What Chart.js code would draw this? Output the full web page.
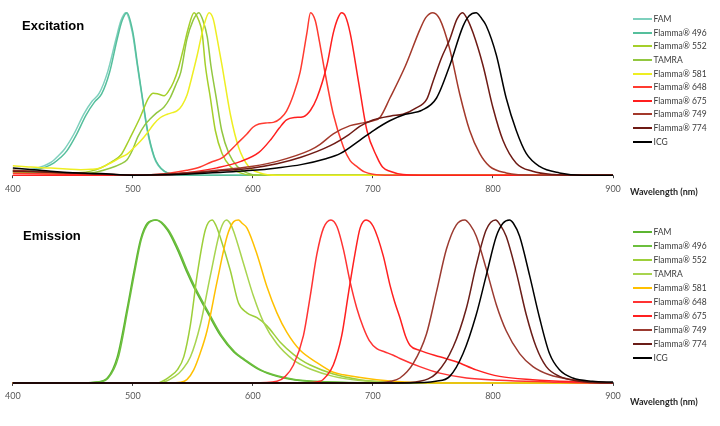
<!DOCTYPE html>
<html>
<head>
<meta charset="utf-8">
<script src="https://cdn.jsdelivr.net/npm/chart.js@4.4.1/dist/chart.umd.min.js"></script>
<style>
  body{margin:0;background:#fff;}
  #wrap{position:relative;width:720px;height:426px;overflow:hidden;}
  .panel{position:absolute;left:0;width:720px;height:213px;}
  .title{position:absolute;font:bold 13px "Liberation Sans",Arial,sans-serif;line-height:13px;color:#000;white-space:nowrap;}
  .axisTitle{position:absolute;font:bold 9px Lato,sans-serif;line-height:9px;color:#262626;white-space:nowrap;}
  .legend{position:absolute;left:633px;font:8.5px Lato,sans-serif;color:#3a3a3a;}
  .legend .row{display:flex;align-items:center;white-space:nowrap;}
  .legend .swatch{width:19px;height:2px;margin-right:1.5px;}
</style>
</head>
<body>
<div id="wrap">
  <div class="panel" style="top:0"><canvas id="exChart"></canvas></div>
  <div class="panel" style="top:213px"><canvas id="emChart"></canvas></div>
  <div class="title" style="left:22px;top:18.6px">Excitation</div>
  <div class="title" style="left:23px;top:228.6px">Emission</div>
  <div class="axisTitle" style="left:630px;top:187px">Wavelength (nm)</div>
  <div class="axisTitle" style="left:630px;top:397px">Wavelength (nm)</div>
  <div class="legend" id="exLegend" style="top:12.5px"></div>
  <div class="legend" id="emLegend" style="top:224.7px"></div>
</div>
<script>
const dyes=['FAM','Flamma® 496','Flamma® 552','TAMRA','Flamma® 581','Flamma® 648','Flamma® 675','Flamma® 749','Flamma® 774','ICG'];
const xTicks=[400,500,600,700,800,900];

// excitation spectra, [wavelength nm, normalised intensity]
const exFAM=[[400,0.025],[410,0.03],[418,0.04],[425,0.055],[432,0.08],[438,0.12],[443,0.16],[451,0.255],[459,0.375],[466,0.455],[472,0.505],[479,0.636],[486,0.84],[490,0.95],[494,1.0],[499.5,0.88],[503.7,0.675],[507.8,0.475],[512,0.275],[517.5,0.114],[521,0.06],[526,0.024],[534,0.005],[550,0],[900,0]];
const exF496=[[400,0.02],[410,0.022],[420,0.035],[427,0.05],[434,0.075],[440,0.11],[445,0.15],[453,0.25],[461,0.37],[468,0.45],[474,0.5],[480.5,0.63],[487,0.84],[491,0.95],[495,1.0],[500,0.88],[504,0.675],[508,0.475],[512.3,0.275],[517.8,0.114],[521.5,0.06],[526.5,0.024],[535,0.005],[550,0],[900,0]];
const exF552=[[400,0.02],[430,0.01],[455,0.015],[465,0.025],[473,0.044],[482,0.08],[490,0.124],[495,0.19],[498,0.234],[506,0.355],[513,0.475],[517,0.505],[521,0.5],[526,0.489],[530,0.52],[534,0.575],[538,0.66],[542,0.776],[546,0.9],[551,1.0],[554.5,0.96],[557.7,0.876],[560.4,0.675],[564.6,0.475],[568.7,0.275],[574.3,0.134],[581.2,0.054],[589.5,0.014],[600,0],[900,0]];
const exTAMRA=[[400,0.03],[430,0.015],[460,0.01],[470,0.02],[481.5,0.044],[490,0.07],[495,0.094],[500,0.16],[504,0.234],[510,0.31],[515,0.35],[520,0.385],[526,0.42],[531,0.475],[536,0.56],[540,0.636],[545,0.836],[550,0.95],[555,1.0],[558.5,0.95],[562,0.85],[565,0.675],[569.5,0.475],[574,0.275],[580,0.134],[587,0.054],[595,0.014],[605,0],[900,0]];
const exF581=[[400,0.058],[415,0.05],[431.6,0.044],[445,0.038],[456.5,0.034],[465,0.036],[473,0.044],[481.5,0.075],[490,0.11],[495.3,0.13],[501,0.17],[506.4,0.21],[512,0.26],[517.5,0.315],[523,0.355],[528.6,0.375],[533,0.385],[537,0.397],[541,0.43],[545.2,0.495],[549,0.6],[553.5,0.735],[559,0.916],[563.5,1.0],[567,0.96],[570,0.85],[574.3,0.675],[581.2,0.375],[588,0.174],[596.4,0.054],[606,0.014],[620,0],[900,0]];
const exF648=[[400,0.012],[430,0.008],[470,0.002],[500,0],[520,0.005],[530,0.012],[545,0.03],[556,0.05],[565,0.08],[575,0.11],[586.8,0.194],[595,0.254],[600,0.295],[605,0.315],[612,0.322],[617,0.325],[623,0.35],[628,0.395],[634,0.5],[639.4,0.636],[645,0.876],[648,1.0],[652,0.95],[655.5,0.82],[659,0.675],[667,0.375],[675.4,0.174],[681,0.09],[686.5,0.054],[693,0.02],[700,0.006],[715,0],[900,0]];
const exF675=[[400,0],[500,0],[530,0.005],[550,0.02],[570,0.045],[590,0.085],[605,0.14],[615,0.22],[622,0.29],[628,0.34],[635,0.355],[642,0.36],[648,0.4],[653.3,0.475],[661.6,0.675],[667,0.876],[671,0.97],[674,1.0],[677,0.98],[681,0.876],[688,0.575],[695,0.275],[703.2,0.114],[708,0.05],[714.2,0.024],[725,0.004],[740,0],[900,0]];
const exF749=[[400,0.03],[430,0.02],[460,0.01],[490,0.003],[510,0.002],[540,0.012],[570,0.03],[600,0.055],[620,0.085],[647.7,0.154],[656,0.19],[667,0.254],[681,0.305],[692,0.322],[700,0.335],[705.8,0.355],[714.2,0.475],[727.2,0.675],[739.1,0.896],[744,0.97],[750,1.0],[755.7,0.96],[764,0.776],[772.3,0.5],[780.6,0.275],[788.9,0.134],[797.2,0.054],[811,0.014],[835,0],[900,0]];
const exF774=[[400,0.025],[430,0.018],[460,0.01],[490,0.003],[510,0.002],[540,0.01],[570,0.025],[600,0.045],[620,0.07],[640,0.11],[664,0.18],[680,0.25],[689,0.3],[700,0.34],[715,0.365],[725,0.375],[735,0.41],[745,0.47],[750,0.575],[757,0.72],[764,0.836],[770,0.96],[774.5,1.0],[778,0.97],[783.4,0.876],[791.7,0.675],[800,0.415],[808.3,0.215],[819.4,0.074],[833,0.024],[850,0.004],[870,0],[900,0]];
const exICG=[[400,0.044],[415,0.035],[431.6,0.024],[450,0.015],[473,0.01],[500,0],[530,0.003],[560,0.012],[600,0.03],[620,0.045],[640,0.065],[660,0.1],[673,0.134],[689,0.215],[700.5,0.275],[714,0.335],[727,0.375],[741,0.4],[753,0.475],[764,0.675],[775,0.916],[780,0.98],[786,1.0],[790,0.97],[794.4,0.92],[802.8,0.74],[811,0.475],[819.4,0.275],[827.7,0.134],[838.8,0.054],[855.4,0.014],[875,0],[900,0]];

// emission spectra
const emFAM=[[400,0],[460,0],[470,0.005],[478.7,0.03],[487,0.16],[495.3,0.46],[500.8,0.68],[506.4,0.88],[512,0.98],[519,1.0],[528.6,0.94],[537,0.82],[545,0.68],[551,0.585],[563,0.42],[573,0.29],[584,0.19],[592,0.145],[606,0.078],[620,0.04],[635,0.018],[660,0.006],[700,0],[900,0]];
const emF496=[[400,0],[462,0],[471,0.005],[479.5,0.03],[488,0.16],[496,0.46],[501.5,0.68],[507,0.88],[513,0.98],[520,1.0],[529.5,0.94],[538,0.82],[546,0.68],[552,0.585],[564,0.42],[574,0.29],[585,0.19],[593,0.145],[607,0.078],[621,0.042],[636,0.02],[660,0.007],[700,0],[900,0]];
const emF552=[[400,0],[520,0],[531,0.04],[537,0.08],[542.4,0.16],[548,0.36],[553.5,0.66],[560.4,0.94],[566,1.0],[569,0.97],[573,0.89],[581.2,0.69],[588,0.49],[595,0.43],[603.4,0.4],[611.7,0.35],[622.8,0.25],[633.8,0.175],[639.4,0.145],[647.7,0.11],[667,0.055],[689,0.02],[717,0.004],[740,0],[900,0]];
const emTAMRA=[[400,0],[522,0],[535,0.04],[541,0.08],[548,0.16],[556.3,0.36],[564.6,0.66],[573,0.94],[578,1.0],[581,0.98],[584,0.93],[592.3,0.73],[600.6,0.53],[609,0.37],[620,0.24],[633.8,0.14],[639.4,0.115],[647.7,0.085],[667,0.04],[689,0.015],[717,0.003],[740,0],[900,0]];
const emF581=[[400,0],[530,0],[539.7,0.004],[545,0.02],[550.7,0.08],[556,0.18],[561.8,0.32],[570.1,0.62],[578.5,0.9],[584,0.99],[588,1.0],[591,0.98],[595.1,0.95],[603.4,0.79],[611.7,0.59],[620,0.43],[628.3,0.31],[639.4,0.2],[653.3,0.125],[667,0.065],[675.4,0.05],[703.2,0.02],[730.8,0.004],[760,0],[900,0]];
const emF648=[[400,0],[600,0],[620,0.01],[627,0.04],[633.8,0.11],[642.1,0.29],[647.7,0.53],[653.3,0.79],[658.8,0.95],[665,1.0],[670,0.96],[675.4,0.82],[681,0.62],[686.5,0.46],[692,0.34],[697,0.26],[703.2,0.21],[710,0.19],[717,0.17],[722.5,0.15],[739,0.1],[755.7,0.06],[778,0.03],[805.5,0.016],[847,0.006],[880,0],[900,0]];
const emF675=[[400,0],[640,0],[656,0.01],[661,0.04],[667,0.11],[674,0.29],[679.6,0.55],[685,0.79],[689.3,0.95],[694.3,1.0],[700.3,0.96],[708.6,0.78],[714.2,0.6],[718,0.5],[722.5,0.4],[727,0.29],[731,0.23],[739,0.2],[755.7,0.16],[769.5,0.13],[786,0.08],[805.5,0.04],[833,0.02],[875,0.006],[900,0]];
const emF749=[[400,0],[700,0],[715,0.01],[722.5,0.03],[733.6,0.12],[744.6,0.3],[753,0.56],[761.2,0.82],[769.5,0.97],[776.5,1.0],[781,0.97],[786.1,0.9],[794.4,0.7],[802.8,0.48],[811,0.32],[822.2,0.18],[833.3,0.1],[847,0.05],[866.5,0.02],[888,0.004],[900,0]];
const emF774=[[400,0],[720,0],[739,0.01],[753,0.06],[766.8,0.22],[777.9,0.46],[786,0.72],[794.4,0.94],[802.2,1.0],[806,0.97],[811,0.9],[819.4,0.68],[827.7,0.42],[836,0.22],[844.4,0.1],[855.4,0.04],[872,0.01],[890,0],[900,0]];
const emICG=[[400,0],[730,0],[752.4,0.01],[764,0.04],[775.1,0.18],[786.1,0.42],[794.4,0.66],[802.8,0.9],[808.3,0.98],[813.8,1.0],[817,0.98],[822.2,0.9],[830.5,0.66],[838.8,0.4],[847.1,0.18],[855.4,0.08],[866.5,0.03],[883,0.01],[900,0.005]];

const exColors=['#7ed0bd','#55bf9c','#a5cf2a','#92c740','#eeee22','#ff3b30','#ff1f1f','#a3392b','#6e1a14','#000000'];
const emColors=['#5cb531','#6cbf3d','#9dcf3a','#a8d44f','#ffc000','#ff3333','#ff2020','#9b3a30','#6a1d18','#000000'];

function makeChart(id,series,colors,pad){
    const ctx=document.getElementById(id).getContext('2d');
    return new Chart(ctx,{
        type:'line',
        data:{
            datasets:series.map((s,i)=>({
                label:dyes[i],
                data:s.map(p=>({x:p[0],y:p[1]})),
                borderColor:colors[i],
                backgroundColor:colors[i],
                borderWidth:1.5,
                pointRadius:0,
                fill:false,
                cubicInterpolationMode:'monotone',
                clip:false,
                order:series.length-1-i
            }))
        },
        options:{
            responsive:true,
            maintainAspectRatio:false,
            animation:false,
            layout:{padding:pad},
            plugins:{legend:{display:false},tooltip:{enabled:false}},
            scales:{
                x:{
                    type:'linear',min:400,max:900,
                    afterBuildTicks:axis=>{axis.ticks=xTicks.map(v=>({value:v}));},
                    ticks:{color:'#595959',font:{family:'Lato',size:9},padding:5,maxRotation:0,autoSkip:false},
                    grid:{drawOnChartArea:false,tickLength:3,color:'#404040'},
                    border:{color:'#808080',width:1}
                },
                y:{display:false,min:0,max:1}
            }
        }
    });
}

function makeLegend(id,colors,rowH){
    const box=document.getElementById(id);
    dyes.forEach((name,i)=>{
        const row=document.createElement('div');
        row.className='row';
        row.style.height=rowH+'px';
        const sw=document.createElement('span');
        sw.className='swatch';
        sw.style.background=colors[i];
        const txt=document.createElement('span');
        txt.textContent=name;
        row.appendChild(sw);
        row.appendChild(txt);
        box.appendChild(row);
    });
}

makeChart('exChart',[exFAM,exF496,exF552,exTAMRA,exF581,exF648,exF675,exF749,exF774,exICG],exColors,{left:12,right:107,top:12.7,bottom:14});
makeChart('emChart',[emFAM,emF496,emF552,emTAMRA,emF581,emF648,emF675,emF749,emF774,emICG],emColors,{left:12,right:107,top:7,bottom:19.3});
makeLegend('exLegend',exColors,13.6);
makeLegend('emLegend',emColors,14.07);
</script>
</body>
</html>
